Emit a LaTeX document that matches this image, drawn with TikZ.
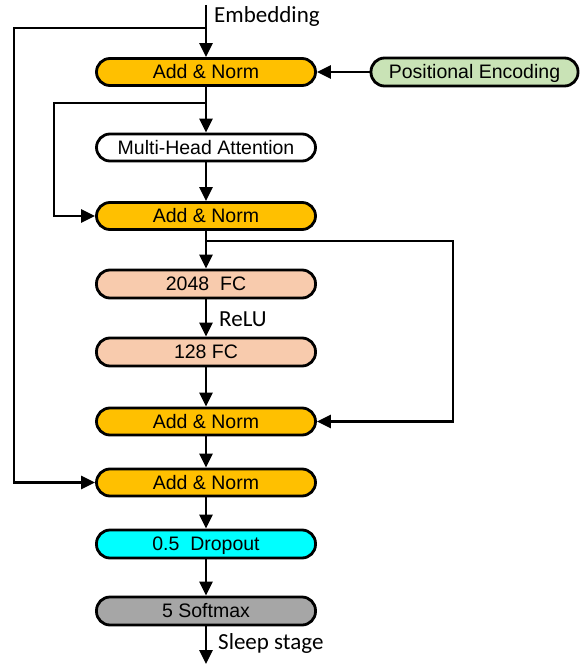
\documentclass[tikz,border=0pt]{standalone}
\usepackage{fontspec}
\setmainfont{Liberation Sans}
\newfontfamily\labelfont{Carlito}
\usetikzlibrary{arrows.meta}
\definecolor{normorange}{HTML}{FFC000}
\definecolor{posgreen}{HTML}{C9E3B6}
\definecolor{fcpeach}{HTML}{F8CBAD}
\definecolor{dropcyan}{HTML}{00FFFF}
\definecolor{softgray}{HTML}{A6A6A6}
\begin{document}
\begin{tikzpicture}[x=1pt,y=-1pt,
  block/.style={draw=black, line width=2.8pt, rounded corners=13.5pt,
    minimum width=219pt, minimum height=27pt, inner sep=0pt,
    text height=16.5pt, text depth=3pt,
    font=\fontsize{19.5}{21}\selectfont},
  flow/.style={line width=2.8pt, -{Triangle[length=14pt,width=13pt]}},
  side/.style={font=\labelfont\fontsize{23}{25}\selectfont, anchor=west, inner sep=0pt}
]
\useasboundingbox (0,0) rectangle (584,666);

% main column of blocks
\node[block, fill=normorange] (an1) at (206,72) {Add \& Norm};
\node[block, fill=posgreen, minimum width=207pt, minimum height=28pt] (pe) at (474.5,72) {Positional Encoding};
\node[block, fill=white] (mha) at (206,147.5) {Multi-Head Attention};
\node[block, fill=normorange] (an2) at (206,216) {Add \& Norm};
\node[block, fill=fcpeach, minimum height=28pt] (fc1) at (206,284) {2048\ \ FC};
\node[block, fill=fcpeach, minimum height=28pt] (fc2) at (206,352) {128 FC};
\node[block, fill=normorange] (an3) at (206,421.5) {Add \& Norm};
\node[block, fill=normorange] (an4) at (206,482.5) {Add \& Norm};
\node[block, fill=dropcyan, minimum height=28pt] (drop) at (206,544) {0.5\ \ Dropout};
\node[block, fill=softgray, minimum height=28pt] (soft) at (206,611) {5 Softmax};

% input, output and branch points
\coordinate (in) at (206,5);
\coordinate (out) at (206,664);
\coordinate (b1) at (206,28);
\coordinate (b2) at (206,103);
\coordinate (b3) at (206,241);

\node[side] (emb) at (214,16) {Embedding};
\node[side] (relu) at (219,319) {ReLU};
\node[side] (sleep) at (218,643) {Sleep stage};

% straight connections
\draw[flow] (in) -- (an1.north);
\draw[flow] (pe.west) -- (an1.east);
\draw[flow] (an1.south) -- (mha.north);
\draw[flow] (mha.south) -- (an2.north);
\draw[flow] (an2.south) -- (fc1.north);
\draw[flow] (fc1.south) -- (fc2.north);
\draw[flow] (fc2.south) -- (an3.north);
\draw[flow] (an3.south) -- (an4.north);
\draw[flow] (an4.south) -- (drop.north);
\draw[flow] (drop.south) -- (soft.north);
\draw[flow] (soft.south) -- (out);

% residual paths
\draw[flow] (b1) -- (14,28) -- (14,482.5) -- (an4.west);
\draw[flow] (b2) -- (54,103) -- (54,216) -- (an2.west);
\draw[flow] (b3) -- (453,241) -- (453,421.5) -- (an3.east);
\end{tikzpicture}
\end{document}
